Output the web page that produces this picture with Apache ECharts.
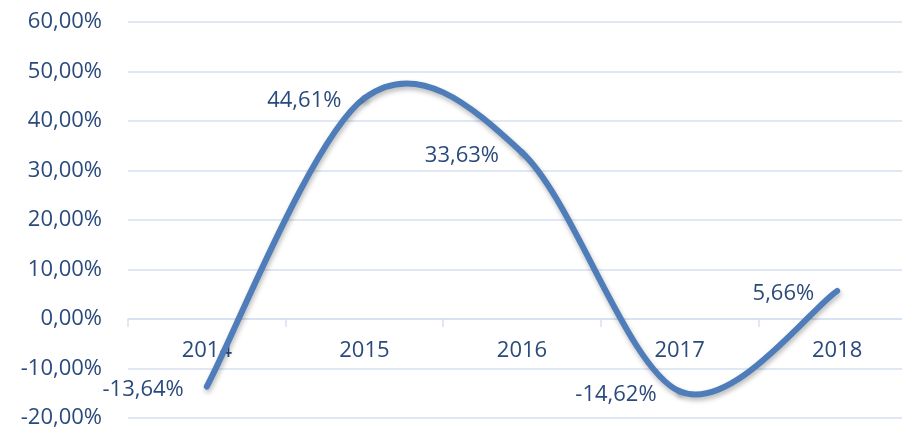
<!DOCTYPE html>
<html><head><meta charset="utf-8">
<script src="https://cdn.jsdelivr.net/npm/echarts@6/dist/echarts.min.js"></script>
<style>html,body{margin:0;padding:0;background:#fff}#c{width:902px;height:428px}</style>
</head><body><div id="c"></div>
<script>
const categories = ['2014','2015','2016','2017','2018'];
const values = [-13.64, 44.61, 33.63, -14.62, 5.66];
const yMin = -20, yMax = 60, yStep = 10;

const fmt = v => v.toFixed(2).replace('.', ',') + '%';
const textColor = '#2A4A7C';
const gridColor = '#D5E1F1';
const lineColor = '#4E7DBA';
const FS = 22;

// Excel-like smoothed rendering (Catmull-Rom -> Bezier) through the axis coordinates
function renderSeg(params, api) {
  const i = params.dataIndex;
  const n = values.length;
  if (i >= n - 1) return null;
  const P = k => api.coord([Math.max(0, Math.min(n - 1, k)), values[Math.max(0, Math.min(n - 1, k))]]);
  const p0 = P(i - 1), p1 = P(i), p2 = P(i + 1), p3 = P(i + 2);
  const t = 1 / 6;
  return {
    type: 'bezierCurve',
    shape: {
      x1: p1[0], y1: p1[1], x2: p2[0], y2: p2[1],
      cpx1: p1[0] + (p2[0] - p0[0]) * t, cpy1: p1[1] + (p2[1] - p0[1]) * t,
      cpx2: p2[0] - (p3[0] - p1[0]) * t, cpy2: p2[1] - (p3[1] - p1[1]) * t
    },
    style: {
      stroke: lineColor, fill: null, lineWidth: 6, lineCap: 'round', lineJoin: 'round',
      shadowColor: 'rgba(0,0,0,0.28)', shadowBlur: 5, shadowOffsetY: 3, shadowOffsetX: 1
    }
  };
}

const chart = echarts.init(document.getElementById('c'));
chart.setOption({
  animation: false,
  textStyle: { fontFamily: 'Open Sans' },
  grid: { left: 128, right: -14, top: 22, bottom: 10, containLabel: false, outerBoundsMode: 'none' },
  xAxis: [{
    type: 'category',
    data: categories,
    boundaryGap: true,
    axisLine: { onZero: true, lineStyle: { color: gridColor, width: 1.5 } },
    axisTick: { show: true, length: 8, lineStyle: { color: gridColor, width: 1.5 } },
    axisLabel: { show: false }
  }, {
    type: 'category',
    data: categories,
    position: 'bottom',
    boundaryGap: true,
    axisLine: { show: false, onZero: false },
    axisTick: { show: false },
    splitLine: { show: false },
    axisLabel: { color: textColor, fontSize: FS, margin: -78, fontFamily: 'Open Sans' }
  }],
  yAxis: {
    type: 'value',
    min: yMin, max: yMax, interval: yStep,
    axisLine: { show: false },
    axisTick: { show: false },
    splitLine: { lineStyle: { color: gridColor, width: 1.5 } },
    axisLabel: { color: textColor, fontSize: FS, margin: 26, formatter: fmt, fontFamily: 'Open Sans' }
  },
  series: [{
    type: 'custom',
    data: values.map((v, i) => [i, v]),
    renderItem: renderSeg,
    z: 2,
    clip: false
  }, {
    type: 'line',
    data: values,
    symbol: 'circle',
    symbolSize: 2,
    itemStyle: { color: 'rgba(0,0,0,0)' },
    lineStyle: { width: 0, opacity: 0 },
    z: 3,
    label: {
      show: true, position: 'left', distance: 22, offset: [0, 3],
      color: textColor, fontSize: FS, fontFamily: 'Open Sans',
      formatter: p => fmt(p.value)
    }
  }]
});
</script>
</body></html>
